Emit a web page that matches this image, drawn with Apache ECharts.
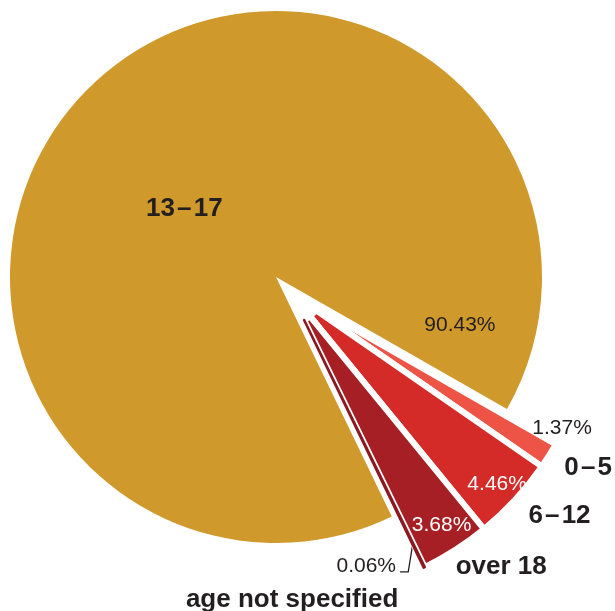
<!DOCTYPE html>
<html>
<head>
<meta charset="utf-8">
<script src="https://cdn.jsdelivr.net/npm/echarts@6/dist/echarts.min.js"></script>
<style>
html,body{margin:0;padding:0;background:#ffffff;}
#chart{width:615px;height:611px;}
</style>
</head>
<body>
<div id="chart"></div>
<script>
// ---------- data ----------
const categories = ['0\u200a–\u200a5', '6\u200a–\u200a12', 'over 18', 'age not specified', '13\u200a–\u200a17'];
const shares = [1.37, 4.46, 3.68, 0.06, 90.43];
const sliceColors = ['#EE5445', '#D42A28', '#A61F24', '#8C1820', '#D0992B'];
const mainIndex = 4;           // the large slice (13–17)

// ---------- layout / style ----------
const START = 29.75;           // degrees below 3 o'clock where the first slice begins
const mainCenter = [276, 277], mainRadius = 266;
const smallCenter = [291, 293], smallRadius = [30, 305];
const FONT = 'Liberation Sans, Arial, Helvetica, sans-serif';
const INK = '#231F20';

const total = shares.reduce((a, b) => a + b, 0);
let acc = START;
const spans = shares.map(v => {
  const s = acc; acc += v / total * 360;
  return { start: s, end: acc, mid: (s + acc) / 2 };
});

function polar(c, rho, deg) {
  const a = deg * Math.PI / 180;
  return [c[0] + rho * Math.cos(a), c[1] + rho * Math.sin(a)];
}
function spotAngle(i, s) { return spans[i][s.from || 'mid'] + (s.da || 0); }

function placer(center, spots) {
  return function (params) {
    const s = spots[params.dataIndex];
    if (!s) return {};
    const p = polar(center, s.rho, spotAngle(params.dataIndex, s));
    const out = { x: p[0], y: p[1], align: s.align || 'center', verticalAlign: 'middle' };
    if (s.line) {
      const p1 = polar(center, s.line[0][0], spans[params.dataIndex].mid + s.line[0][1]);
      const p2 = polar(center, s.line[1][0], spans[params.dataIndex].mid + s.line[1][1]);
      out.labelLinePoints = [p1, p2, [p[0] + s.line[2], p2[1]]];
    }
    return out;
  };
}

const mainNameSpots = { 4: { rho: 114, da: -10.5 } };
const mainPctSpots = { 4: { rho: 190, from: 'end', da: -15.2 } };
const smallPctSpots = {
  0: { rho: 303, da: -5.7 },
  1: { rho: 281, da: 0.1 },
  2: { rho: 277, da: -0.3 },
  3: { rho: 293, da: 4.9, align: 'right', line: [[278, -0.1], [302.5, 3.1], 4] }
};
const smallNameSpots = {
  0: { rho: 345, da: -1.7 },
  1: { rho: 349, da: -3.0 },
  2: { rho: 345, da: -4.9 },
  3: { rho: 307, da: 25.7 }
};
const pctColor = { 0: INK, 1: '#ffffff', 2: '#ffffff', 3: INK };

const clear = 'rgba(0,0,0,0)';
const pct = v => v.toFixed(2) + '%';

const base = {
  type: 'pie', animation: false, silent: true, clockwise: true,
  startAngle: -START, avoidLabelOverlap: false,
  emphasis: { disabled: true }, labelLine: { show: false }
};

const series = [
  Object.assign({}, base, {
    center: mainCenter, radius: [0, mainRadius], z: 1,
    data: categories.map((c, i) => ({
      name: c, value: shares[i],
      itemStyle: { color: i === mainIndex ? sliceColors[i] : clear, borderWidth: 0 },
      label: { show: i === mainIndex }
    })),
    label: { position: 'inside', formatter: p => p.name, fontFamily: FONT, fontWeight: 'bold', fontSize: 26, color: INK },
    labelLayout: placer(mainCenter, mainNameSpots)
  }),
  Object.assign({}, base, {
    center: mainCenter, radius: [0, mainRadius], z: 2,
    data: categories.map((c, i) => ({
      name: c, value: shares[i],
      itemStyle: { color: clear, borderWidth: 0 },
      label: { show: i === mainIndex }
    })),
    label: { position: 'inside', formatter: p => pct(p.value), fontFamily: FONT, fontSize: 21, color: INK },
    labelLayout: placer(mainCenter, mainPctSpots)
  }),
  Object.assign({}, base, {
    center: smallCenter, radius: smallRadius, z: 3,
    data: categories.map((c, i) => {
      const tiny = shares[i] < 0.5;
      const it = {
        name: c, value: shares[i],
        itemStyle: i === mainIndex
          ? { color: clear, borderWidth: 0 }
          : { color: sliceColors[i], borderColor: tiny ? sliceColors[i] : '#ffffff', borderWidth: tiny ? 2.5 : 6, borderJoin: 'round' },
        label: { show: i !== mainIndex, color: pctColor[i], position: tiny ? 'outside' : 'inside' }
      };
      if (tiny) it.labelLine = { show: true, length: 5, length2: 5, lineStyle: { color: INK, width: 1.3 } };
      return it;
    }),
    label: { formatter: p => pct(p.value), fontFamily: FONT, fontSize: 21 },
    labelLayout: placer(smallCenter, smallPctSpots)
  }),
  Object.assign({}, base, {
    center: smallCenter, radius: smallRadius, z: 4,
    data: categories.map((c, i) => ({
      name: c, value: shares[i],
      itemStyle: { color: clear, borderWidth: 0 },
      label: { show: i !== mainIndex }
    })),
    label: { position: 'inside', formatter: p => p.name, fontFamily: FONT, fontWeight: 'bold', fontSize: 26, color: INK },
    labelLayout: placer(smallCenter, smallNameSpots)
  })
];

const chart = echarts.init(document.getElementById('chart'), null, { renderer: 'canvas' });
chart.setOption({ backgroundColor: '#ffffff', animation: false, tooltip: { show: false }, series: series });
</script>
</body>
</html>
